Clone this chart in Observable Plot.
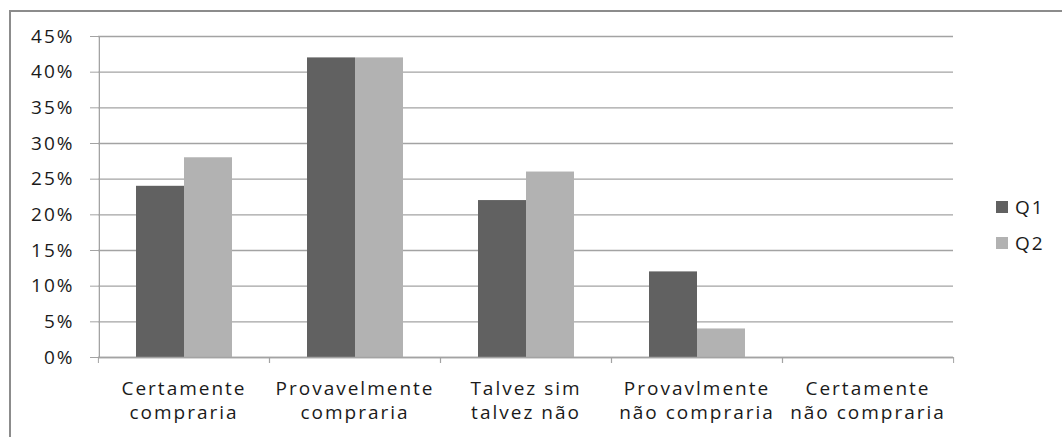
<!DOCTYPE html>
<html><head><meta charset="utf-8">
<script src="https://cdn.jsdelivr.net/npm/d3@7"></script>
<script src="https://cdn.jsdelivr.net/npm/@observablehq/plot@0.6"></script>
<style>
body{margin:0;background:#fff;}
#wrap{position:relative;width:1062px;height:437px;overflow:hidden;background:#fff;}
#border{position:absolute;left:9px;top:10px;width:1100px;height:500px;border:2px solid #8c8c8c;z-index:2;pointer-events:none;}
#chart{position:absolute;left:0;top:0;z-index:1;}
#legend{position:absolute;left:996px;top:194px;z-index:3;font-family:"Open Sans",sans-serif;font-size:19px;letter-spacing:2px;color:#1a1a1a;}
#legend .item{display:flex;align-items:center;height:26px;margin-bottom:10px;}
#legend .sw{width:12px;height:12px;margin-right:7px;}
</style></head><body>
<div id="wrap"><div id="chart"></div><div id="border"></div><div id="legend"></div></div>
<script>
const categories = ["Certamente\ncompraria","Provavelmente\ncompraria","Talvez sim\ntalvez não","Provavlmente\nnão compraria","Certamente\nnão compraria"];
const series = ["Q1","Q2"];
const q1 = [0.24, 0.42, 0.22, 0.12, 0];
const q2 = [0.28, 0.42, 0.26, 0.04, 0];
const yTicks = [0, 0.05, 0.10, 0.15, 0.20, 0.25, 0.30, 0.35, 0.40, 0.45];
const colors = ["#616161", "#b2b2b2"];

const data = [];
categories.forEach((c, i) => {
  data.push({cat: c, series: series[0], value: q1[i]});
  data.push({cat: c, series: series[1], value: q2[i]});
});

const W = 1062, H = 437, mL = 97, mR = 109, mT = 36, mB = 80;
const fw = (W - mL - mR) / categories.length;
const pad = 0.75;
const step = fw / (series.length + 2 * pad);
const lineColor = "#a3a3a3";
const pct = d => Math.round(d * 100) + "%";

const chart = Plot.plot({
  width: W, height: H,
  marginLeft: mL, marginRight: mR, marginTop: mT, marginBottom: mB,
  style: {fontFamily: "'Open Sans', sans-serif", fontSize: "19px", letterSpacing: "2px", color: "#1a1a1a", background: "transparent"},
  fx: {domain: categories, padding: 0, label: null, axis: null},
  x: {domain: series, paddingInner: 0, paddingOuter: pad, axis: null},
  y: {domain: [0, 0.45], label: null},
  color: {domain: series, range: colors},
  marks: [
    Plot.gridY(yTicks, {stroke: lineColor, strokeOpacity: 1, strokeWidth: 1.3}),
    Plot.barY(data, {fx: "cat", x: "series", y: "value", fill: "series"}),
    Plot.ruleX([{cat: categories[0], s: series[0]}], {fx: "cat", x: "s", y1: 0, y2: 0.45, dx: -(pad + 0.5) * step, stroke: lineColor, strokeWidth: 1.3}),
    Plot.ruleY([0], {stroke: lineColor, strokeWidth: 1.3}),
    Plot.axisY(yTicks, {tickSize: 8, tickPadding: 16, tickFormat: pct, stroke: lineColor, label: null}),
    Plot.axisFx({anchor: "bottom", tickSize: 0, tickPadding: 21, lineHeight: 1.25, label: null}),
    Plot.axisFx({anchor: "bottom", tickSize: 6, tickFormat: () => "", dx: -fw / 2, stroke: lineColor, label: null}),
    Plot.axisFx([categories[categories.length - 1]], {anchor: "bottom", tickSize: 6, tickFormat: () => "", dx: fw / 2, stroke: lineColor, label: null})
  ]
});
document.getElementById("chart").appendChild(chart);

const leg = d3.select("#legend");
series.forEach((s, i) => {
  const it = leg.append("div").attr("class", "item");
  it.append("div").attr("class", "sw").style("background", colors[i]);
  it.append("span").text(s);
});
</script>
</body></html>
